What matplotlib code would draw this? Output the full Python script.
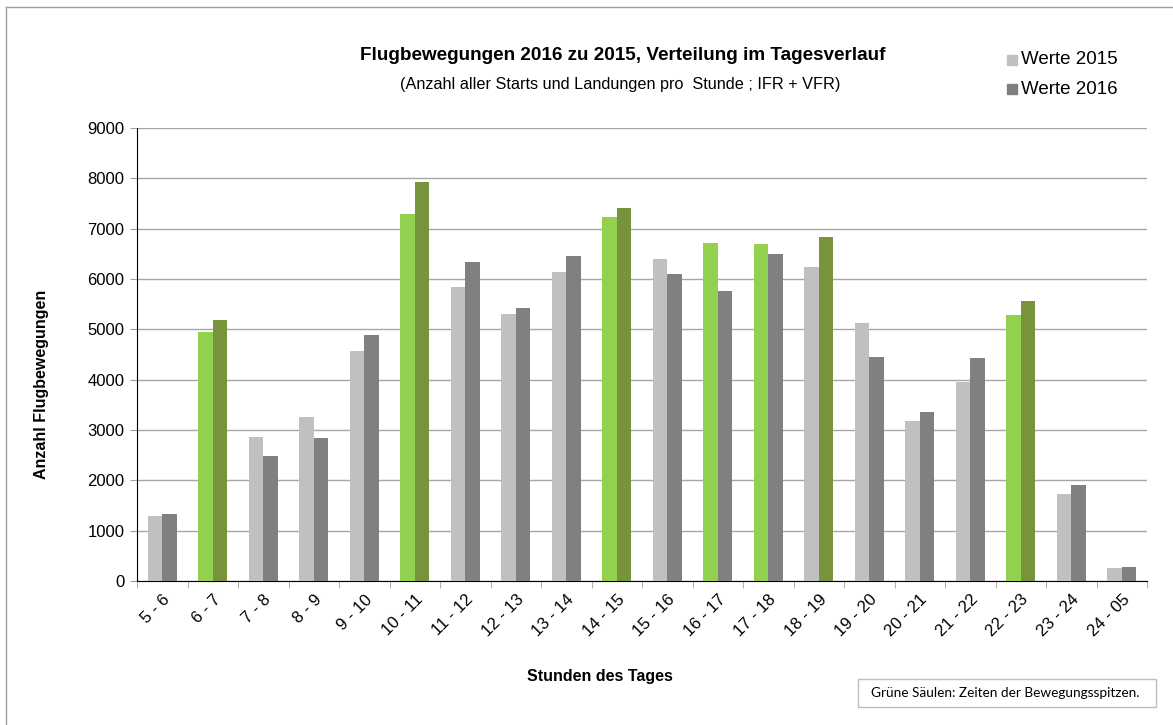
import numpy as np
import matplotlib
matplotlib.use('Agg')
import matplotlib.pyplot as plt
from matplotlib.patches import Rectangle
from matplotlib.lines import Line2D

plt.rcParams['font.family'] = ['Liberation Sans', 'DejaVu Sans']

# data
stunden = ['5 - 6', '6 - 7', '7 - 8', '8 - 9', '9 - 10', '10 - 11', '11 - 12', '12 - 13',
           '13 - 14', '14 - 15', '15 - 16', '16 - 17', '17 - 18', '18 - 19', '19 - 20',
           '20 - 21', '21 - 22', '22 - 23', '23 - 24', '24 - 05']
werte_2015 = [1300, 4940, 2870, 3265, 4575, 7290, 5840, 5300, 6140, 7230,
              6395, 6715, 6695, 6235, 5120, 3170, 3945, 5280, 1720, 250]
werte_2016 = [1340, 5180, 2480, 2845, 4895, 7930, 6335, 5420, 6465, 7410,
              6095, 5760, 6495, 6835, 4455, 3360, 4435, 5560, 1910, 270]
# gruene Saeulen (Bewegungsspitzen)
gruen_2015 = [1, 5, 9, 11, 12, 17]
gruen_2016 = [1, 5, 9, 13, 17]

hell_grau = '#C0C0C0'
dunkel_grau = '#808080'
hell_gruen = '#92D050'
dunkel_gruen = '#77933C'

farben_2015 = [hell_gruen if i in gruen_2015 else hell_grau for i in range(len(stunden))]
farben_2016 = [dunkel_gruen if i in gruen_2016 else dunkel_grau for i in range(len(stunden))]

W, H = 1173, 725
fig = plt.figure(figsize=(W / 100, H / 100), dpi=100)
ax = fig.add_axes([137 / W, 1 - 581 / H, (1147 - 137) / W, (581 - 128) / H])

x = np.arange(len(stunden))
bw = 0.29
ax.bar(x - bw / 2, werte_2015, bw, color=farben_2015, zorder=3)
ax.bar(x + bw / 2, werte_2016, bw, color=farben_2016, zorder=3)

ax.set_xlim(-0.5, len(stunden) - 0.5)
ax.set_ylim(0, 9000)
ax.set_yticks(np.arange(0, 9001, 1000))
ax.yaxis.grid(True, color='#A6A6A6', lw=1, zorder=0)
ax.set_axisbelow(True)

ax.set_xticks(x)
ax.set_xticklabels(stunden, rotation=45, ha='right', rotation_mode='anchor', fontsize=12)
ax.set_xticks(np.arange(-0.5, len(stunden)), minor=True)
ax.tick_params(axis='x', which='major', length=0, pad=8)
ax.tick_params(axis='x', which='minor', length=5, color='#A0A0A0', direction='out')
ax.tick_params(axis='y', length=5, color='#A0A0A0', labelsize=12, pad=4)

for s in ['top', 'right']:
    ax.spines[s].set_visible(False)
ax.spines['left'].set_color('black')
ax.spines['bottom'].set_color('black')

fig.text(42 / W, 1 - 384 / H, 'Anzahl Flugbewegungen', fontsize=11.5, fontweight='bold',
         rotation=90, ha='center', va='center')
fig.text(600 / W, 1 - 676 / H, 'Stunden des Tages', fontsize=11.5, fontweight='bold',
         ha='center', va='center')

fig.text(623 / W, 1 - 55 / H, 'Flugbewegungen 2016 zu 2015, Verteilung im Tagesverlauf',
         fontsize=13.6, fontweight='bold', ha='center', va='center')
fig.text(620 / W, 1 - 85 / H, '(Anzahl aller Starts und Landungen pro  Stunde ; IFR + VFR)',
         fontsize=11.7, ha='center', va='center')

# legend
for lbl, c, py in [('Werte 2015', hell_grau, 60), ('Werte 2016', dunkel_grau, 89)]:
    fig.patches.append(Rectangle((1007 / W, 1 - (py + 5) / H), 10 / W, 10 / H,
                                 transform=fig.transFigure, color=c))
    fig.text(1021 / W, 1 - py / H, lbl, fontsize=13.5, ha='left', va='center')

# hinweis box
fig.text(871 / W, 1 - 693 / H, 'Grüne Säulen: Zeiten der Bewegungsspitzen.',
         fontsize=9.8, family=['Lato', 'DejaVu Sans'], ha='left', va='center')
fig.patches.append(Rectangle((858 / W, 1 - 707 / H), (1156 - 858) / W, 28 / H,
                             transform=fig.transFigure, fill=False, ec='#BFBFBF', lw=1))

# rahmen
fig.lines.append(Line2D([6 / W, 6 / W], [0, 1 - 7 / H], transform=fig.transFigure,
                        color='#A0A0A0', lw=1))
fig.lines.append(Line2D([6 / W, 1], [1 - 7 / H, 1 - 7 / H], transform=fig.transFigure,
                        color='#A0A0A0', lw=1))

fig.savefig('out.png', dpi=100)
